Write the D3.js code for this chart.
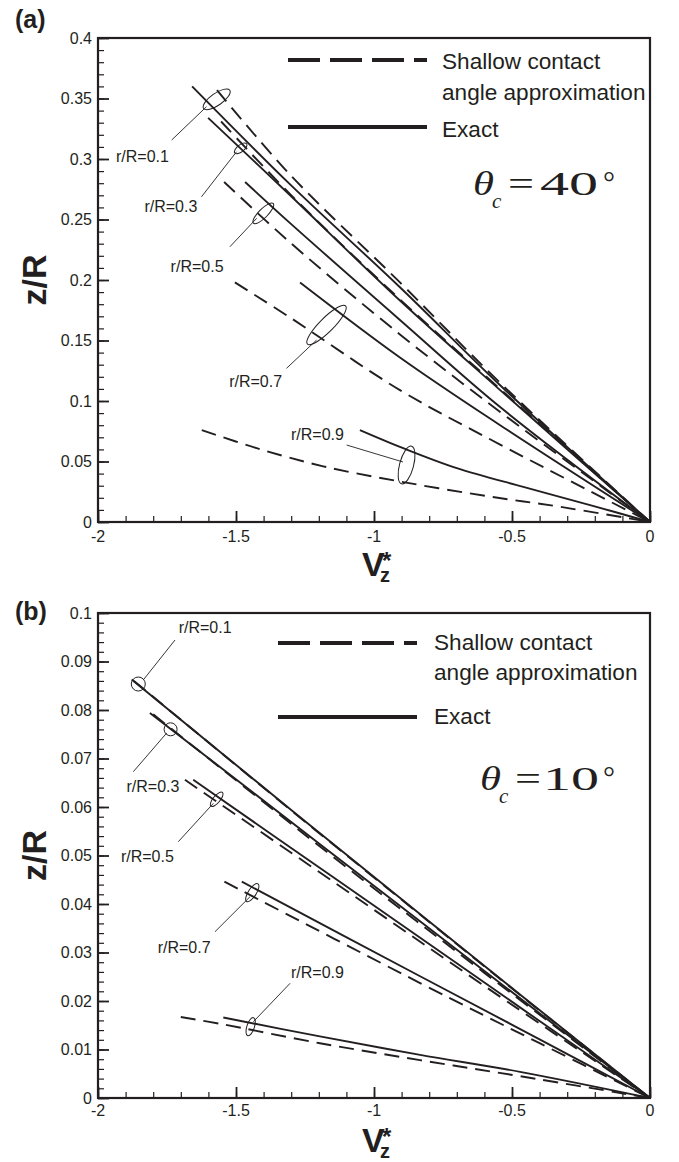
<!DOCTYPE html>
<html>
<head>
<meta charset="utf-8">
<script src="https://cdn.jsdelivr.net/npm/d3@7"></script>
<style>
  html, body { margin: 0; padding: 0; background: #fff; }
  svg { display: block; }
  text { font-family: "Liberation Sans", Arial, Helvetica, sans-serif; fill: #231f20; }
</style>
</head>
<body>
<div id="chart"></div>
<script>
// z/R against V_z* at fixed r/R, exact vs shallow contact angle approximation

// ---- axis ticks ----
const xTicks = [-2, -1.5, -1, -0.5, 0];
const xTickLabels = ["-2", "-1.5", "-1", "-0.5", "0"];
const yTicksA = [0, 0.05, 0.1, 0.15, 0.2, 0.25, 0.3, 0.35, 0.4];
const yTickLabelsA = ["0", "0.05", "0.1", "0.15", "0.2", "0.25", "0.3", "0.35", "0.4"];
const yTicksB = [0, 0.01, 0.02, 0.03, 0.04, 0.05, 0.06, 0.07, 0.08, 0.09, 0.1];
const yTickLabelsB = ["0", "0.01", "0.02", "0.03", "0.04", "0.05", "0.06", "0.07", "0.08", "0.09", "0.1"];

const radii = ["r/R=0.1", "r/R=0.3", "r/R=0.5", "r/R=0.7", "r/R=0.9"];

// ---- theta_c = 40 deg, [V_z*, z/R] ----
const exact40_r01 = [[-1.659, 0.360], [-1.304, 0.279], [-0.906, 0.194], [-0.543, 0.113], [0, 0]];
const shallow40_r01 = [[-1.569, 0.357], [-1.304, 0.287], [-0.906, 0.198], [-0.543, 0.115], [0, 0]];
const exact40_r03 = [[-1.601, 0.334], [-1.304, 0.270], [-0.906, 0.183], [-0.543, 0.109], [0, 0]];
const shallow40_r03 = [[-1.554, 0.331], [-1.304, 0.271], [-0.906, 0.184], [-0.543, 0.110], [0, 0]];
const exact40_r05 = [[-1.467, 0.281], [-1.304, 0.247], [-0.906, 0.167], [-0.543, 0.095], [0, 0]];
const shallow40_r05 = [[-1.543, 0.281], [-1.304, 0.231], [-0.906, 0.155], [-0.543, 0.091], [0, 0]];
const exact40_r07 = [[-1.268, 0.198], [-0.906, 0.136], [-0.543, 0.080], [0, 0]];
const shallow40_r07 = [[-1.504, 0.198], [-1.304, 0.169], [-0.906, 0.109], [-0.543, 0.064], [0, 0]];
const exact40_r09 = [[-1.051, 0.076], [-0.894, 0.061], [-0.700, 0.0445], [-0.459, 0.029], [-0.217, 0.014], [0, 0]];
const shallow40_r09 = [[-1.624, 0.076], [-1.425, 0.061], [-1.184, 0.046], [-0.894, 0.033], [-0.580, 0.021], [-0.338, 0.013], [0, 0]];

// ---- theta_c = 10 deg ----
const exact10_r01 = [[-1.878, 0.0863], [-1.30, 0.0594], [-0.80, 0.0364], [-0.47, 0.0213], [0, 0]];
const shallow10_r01 = [[-1.870, 0.0860], [-1.30, 0.0593], [-0.80, 0.0363], [-0.47, 0.0212], [0, 0]];
const exact10_r03 = [[-1.812, 0.0794], [-1.17, 0.0512], [-0.60, 0.0262], [0, 0]];
const shallow10_r03 = [[-1.800, 0.0791], [-1.17, 0.0507], [-0.60, 0.0258], [0, 0]];
const exact10_r05 = [[-1.655, 0.0656], [-1.15, 0.0456], [-0.60, 0.0238], [0, 0]];
const shallow10_r05 = [[-1.685, 0.0656], [-1.15, 0.0447], [-0.60, 0.0231], [0, 0]];
const exact10_r07 = [[-1.479, 0.0446], [-0.833, 0.0251], [-0.40, 0.0121], [0, 0]];
const shallow10_r07 = [[-1.542, 0.0446], [-0.833, 0.0237], [-0.40, 0.0113], [0, 0]];
const exact10_r09 = [[-1.546, 0.0166], [-1.196, 0.0127], [-0.833, 0.0089], [-0.471, 0.0054], [0, 0]];
const shallow10_r09 = [[-1.700, 0.0167], [-1.558, 0.0153], [-1.196, 0.0113], [-0.833, 0.0078], [-0.471, 0.0045], [0, 0]];

// ---- annotation anchors (data units): ring centre, leader from/to, label centre ----
const ringsA = [[-1.570, 0.3493], [-1.483, 0.3088], [-1.401, 0.2551], [-1.172, 0.1628], [-0.882, 0.0471]];
const leadersA = [
  [[-1.607, 0.3432], [-1.733, 0.3157]],
  [[-1.498, 0.3060], [-1.625, 0.2688]],
  [[-1.425, 0.2510], [-1.522, 0.2275]],
  [[-1.208, 0.1504], [-1.317, 0.1270]],
  [[-0.895, 0.0496], [-1.099, 0.0636]]
];
const labelsA = [[-1.839, 0.2975], [-1.736, 0.2562], [-1.641, 0.2066], [-1.429, 0.1116], [-1.205, 0.0678]];

const ringsB = [[-1.854, 0.08536], [-1.737, 0.07602], [-1.570, 0.06159], [-1.441, 0.04233], [-1.447, 0.0147]];
const leadersB = [
  [[-1.836, 0.08619], [-1.721, 0.09443]],
  [[-1.751, 0.07526], [-1.872, 0.06728]],
  [[-1.582, 0.06076], [-1.709, 0.05285]],
  [[-1.449, 0.04151], [-1.576, 0.03429]],
  [[-1.437, 0.01573], [-1.304, 0.02365]]
];
const labelsB = [[-1.612, 0.09588], [-1.801, 0.06315], [-1.821, 0.04872], [-1.688, 0.0299], [-1.205, 0.02474]];

// ---- layout ----
const W = 679, H = 1162;
const plotLeft = 98, plotRight = 650;
const ink = "#231f20";

const panels = [
  {
    tag: "(a)", tagY: 28, top: 38, bottom: 522, yMax: 0.4,
    yTicks: yTicksA, yLabels: yTickLabelsA, yMinor: 40, xLabY: 20,
    exact: [exact40_r01, exact40_r03, exact40_r05, exact40_r07, exact40_r09],
    shallow: [shallow40_r01, shallow40_r03, shallow40_r05, shallow40_r07, shallow40_r09],
    rings: ringsA, leaders: leadersA, labels: labelsA,
    ringShape: [[16, 6, -35], [7.5, 3.5, -38], [14, 4.5, -45], [27, 7, -45], [19.5, 7, -75]],
    legend: { lineX: 288, textX: 442, dashY: 60, solidY: 127, t1: 69, t2: 100, t3: 137 },
    eq: { x: 473, y: 195, num: "40", numX: 540, numLen: 58, degX: 603 }
  },
  {
    tag: "(b)", tagY: 620, top: 613, bottom: 1098, yMax: 0.1,
    yTicks: yTicksB, yLabels: yTickLabelsB, yMinor: 50, xLabY: 18,
    exact: [exact10_r01, exact10_r03, exact10_r05, exact10_r07, exact10_r09],
    shallow: [shallow10_r01, shallow10_r03, shallow10_r05, shallow10_r07, shallow10_r09],
    rings: ringsB, leaders: leadersB, labels: labelsB,
    ringShape: [[7, 7, 0], [6.5, 6.5, 0], [9, 3.5, -50], [10.5, 4, -57], [9.5, 3.8, -72]],
    legend: { lineX: 278, textX: 434, dashY: 643, solidY: 717, t1: 650, t2: 680, t3: 724 },
    eq: { x: 480, y: 790, num: "10", numX: 543, numLen: 56, degX: 603 }
  }
];

const svg = d3.select("#chart")
  .append("svg")
  .attr("width", W)
  .attr("height", H);

function drawPanel(p) {
  const g = svg.append("g");

  const x = d3.scaleLinear().domain([-2, 0]).range([plotLeft, plotRight]);
  const y = d3.scaleLinear().domain([0, p.yMax]).range([p.bottom, p.top]);

  // minor ticks (inward)
  g.append("g")
    .attr("transform", `translate(0,${p.bottom})`)
    .call(d3.axisBottom(x).ticks(20).tickSize(-6).tickFormat(""))
    .call(a => a.select(".domain").remove())
    .call(a => a.selectAll("line").attr("stroke", ink).attr("stroke-width", 1.2));
  g.append("g")
    .attr("transform", `translate(${plotLeft},0)`)
    .call(d3.axisLeft(y).ticks(p.yMinor).tickSize(-6).tickFormat(""))
    .call(a => a.select(".domain").remove())
    .call(a => a.selectAll("line").attr("stroke", ink).attr("stroke-width", 1.2));

  // major ticks
  g.append("g")
    .attr("transform", `translate(0,${p.bottom})`)
    .call(d3.axisBottom(x).tickValues(xTicks).tickSize(-11).tickFormat(""))
    .call(a => a.select(".domain").remove())
    .call(a => a.selectAll("line").attr("stroke", ink).attr("stroke-width", 1.8));
  g.append("g")
    .attr("transform", `translate(${plotLeft},0)`)
    .call(d3.axisLeft(y).tickValues(p.yTicks).tickSize(-11).tickFormat(""))
    .call(a => a.select(".domain").remove())
    .call(a => a.selectAll("line").attr("stroke", ink).attr("stroke-width", 1.8));

  // tick labels
  g.selectAll(".xlab")
    .data(xTicks)
    .enter().append("text")
    .attr("class", "xlab")
    .attr("x", d => x(d))
    .attr("y", p.bottom + p.xLabY)
    .attr("text-anchor", "middle")
    .attr("font-size", 16).style("font-size", "16px")
    .text((d, i) => xTickLabels[i]);

  g.selectAll(".ylab")
    .data(p.yTicks)
    .enter().append("text")
    .attr("class", "ylab")
    .attr("x", plotLeft - 6)
    .attr("y", d => y(d))
    .attr("dy", "0.36em")
    .attr("text-anchor", "end")
    .attr("font-size", 16).style("font-size", "16px")
    .text((d, i) => p.yLabels[i]);

  // frame
  g.append("rect")
    .attr("x", plotLeft).attr("y", p.top)
    .attr("width", plotRight - plotLeft).attr("height", p.bottom - p.top)
    .attr("fill", "none").attr("stroke", ink).attr("stroke-width", 2.2);

  // curves
  const line = d3.line()
    .x(d => x(d[0]))
    .y(d => y(d[1]))
    .curve(d3.curveCatmullRom.alpha(0.5));

  g.selectAll(".shallow")
    .data(p.shallow)
    .enter().append("path")
    .attr("class", "shallow")
    .attr("d", line)
    .attr("fill", "none").attr("stroke", ink)
    .attr("stroke-width", 1.9)
    .attr("stroke-dasharray", "15,8");

  g.selectAll(".exact")
    .data(p.exact)
    .enter().append("path")
    .attr("class", "exact")
    .attr("d", line)
    .attr("fill", "none").attr("stroke", ink)
    .attr("stroke-width", 1.9);

  // rings, leaders, r/R labels
  p.rings.forEach((c, i) => {
    const s = p.ringShape[i];
    g.append("ellipse")
      .attr("transform", `translate(${x(c[0])},${y(c[1])}) rotate(${s[2]})`)
      .attr("rx", s[0]).attr("ry", s[1])
      .attr("fill", "none").attr("stroke", ink).attr("stroke-width", 1);

    const l = p.leaders[i];
    g.append("line")
      .attr("x1", x(l[0][0])).attr("y1", y(l[0][1]))
      .attr("x2", x(l[1][0])).attr("y2", y(l[1][1]))
      .attr("stroke", ink).attr("stroke-width", 0.9);

    g.append("text")
      .attr("x", x(p.labels[i][0])).attr("y", y(p.labels[i][1]))
      .attr("text-anchor", "middle")
      .style("font-size", "16px")
      .text(radii[i]);
  });

  // legend
  const L = p.legend;
  g.append("line")
    .attr("x1", L.lineX).attr("x2", L.lineX + 139)
    .attr("y1", L.dashY).attr("y2", L.dashY)
    .attr("stroke", ink).attr("stroke-width", 4)
    .attr("stroke-dasharray", "32,10");
  g.append("line")
    .attr("x1", L.lineX).attr("x2", L.lineX + 139)
    .attr("y1", L.solidY).attr("y2", L.solidY)
    .attr("stroke", ink).attr("stroke-width", 4);
  [["Shallow contact", L.t1], ["angle approximation", L.t2], ["Exact", L.t3]].forEach(t => {
    g.append("text")
      .attr("x", L.textX).attr("y", t[1])
      .style("font-size", "22.6px")
      .text(t[0]);
  });

  // theta_c = ..deg (stretched like the original)
  const E = p.eq;
  const serif = "'Liberation Serif', 'Times New Roman', serif";
  g.append("text")
    .attr("x", E.x).attr("y", E.y)
    .attr("textLength", 21).attr("lengthAdjust", "spacingAndGlyphs")
    .style("font-family", serif).style("font-style", "italic").style("font-size", "34px")
    .text("\u03b8");
  g.append("text")
    .attr("x", E.x + 19).attr("y", E.y + 13)
    .style("font-family", serif).style("font-style", "italic").style("font-size", "21px")
    .text("c");
  g.append("text")
    .attr("x", E.x + 35).attr("y", E.y)
    .attr("textLength", 26).attr("lengthAdjust", "spacingAndGlyphs")
    .style("font-family", serif).style("font-size", "34px")
    .text("=");
  g.append("text")
    .attr("x", E.numX).attr("y", E.y)
    .attr("textLength", E.numLen).attr("lengthAdjust", "spacingAndGlyphs")
    .style("font-family", serif).style("font-size", "34px")
    .text(E.num);
  g.append("text")
    .attr("x", E.degX).attr("y", E.y - 3)
    .style("font-family", serif).style("font-size", "30px")
    .text("\u00b0");

  // axis titles
  const midY = (p.top + p.bottom) / 2;
  g.append("text")
    .attr("transform", `translate(46,${midY}) rotate(-90)`)
    .attr("text-anchor", "middle")
    .style("font-size", "34px").style("font-weight", "bold")
    .text("z/R");

  const vt = g.append("text")
    .attr("x", 362).attr("y", p.bottom + 54)
    .style("font-weight", "bold")
    .style("font-size", "34px");
  vt.append("tspan").text("V");
  vt.append("tspan")
    .attr("x", 380).attr("y", p.bottom + 60)
    .style("font-size", "20px")
    .text("z");
  vt.append("tspan")
    .attr("x", 382).attr("y", p.bottom + 47)
    .style("font-size", "24px")
    .text("*");

  // panel tag
  g.append("text")
    .attr("x", 15).attr("y", p.tagY)
    .style("font-size", "25px").style("font-weight", "bold")
    .text(p.tag);
}

panels.forEach(drawPanel);
</script>
</body>
</html>
